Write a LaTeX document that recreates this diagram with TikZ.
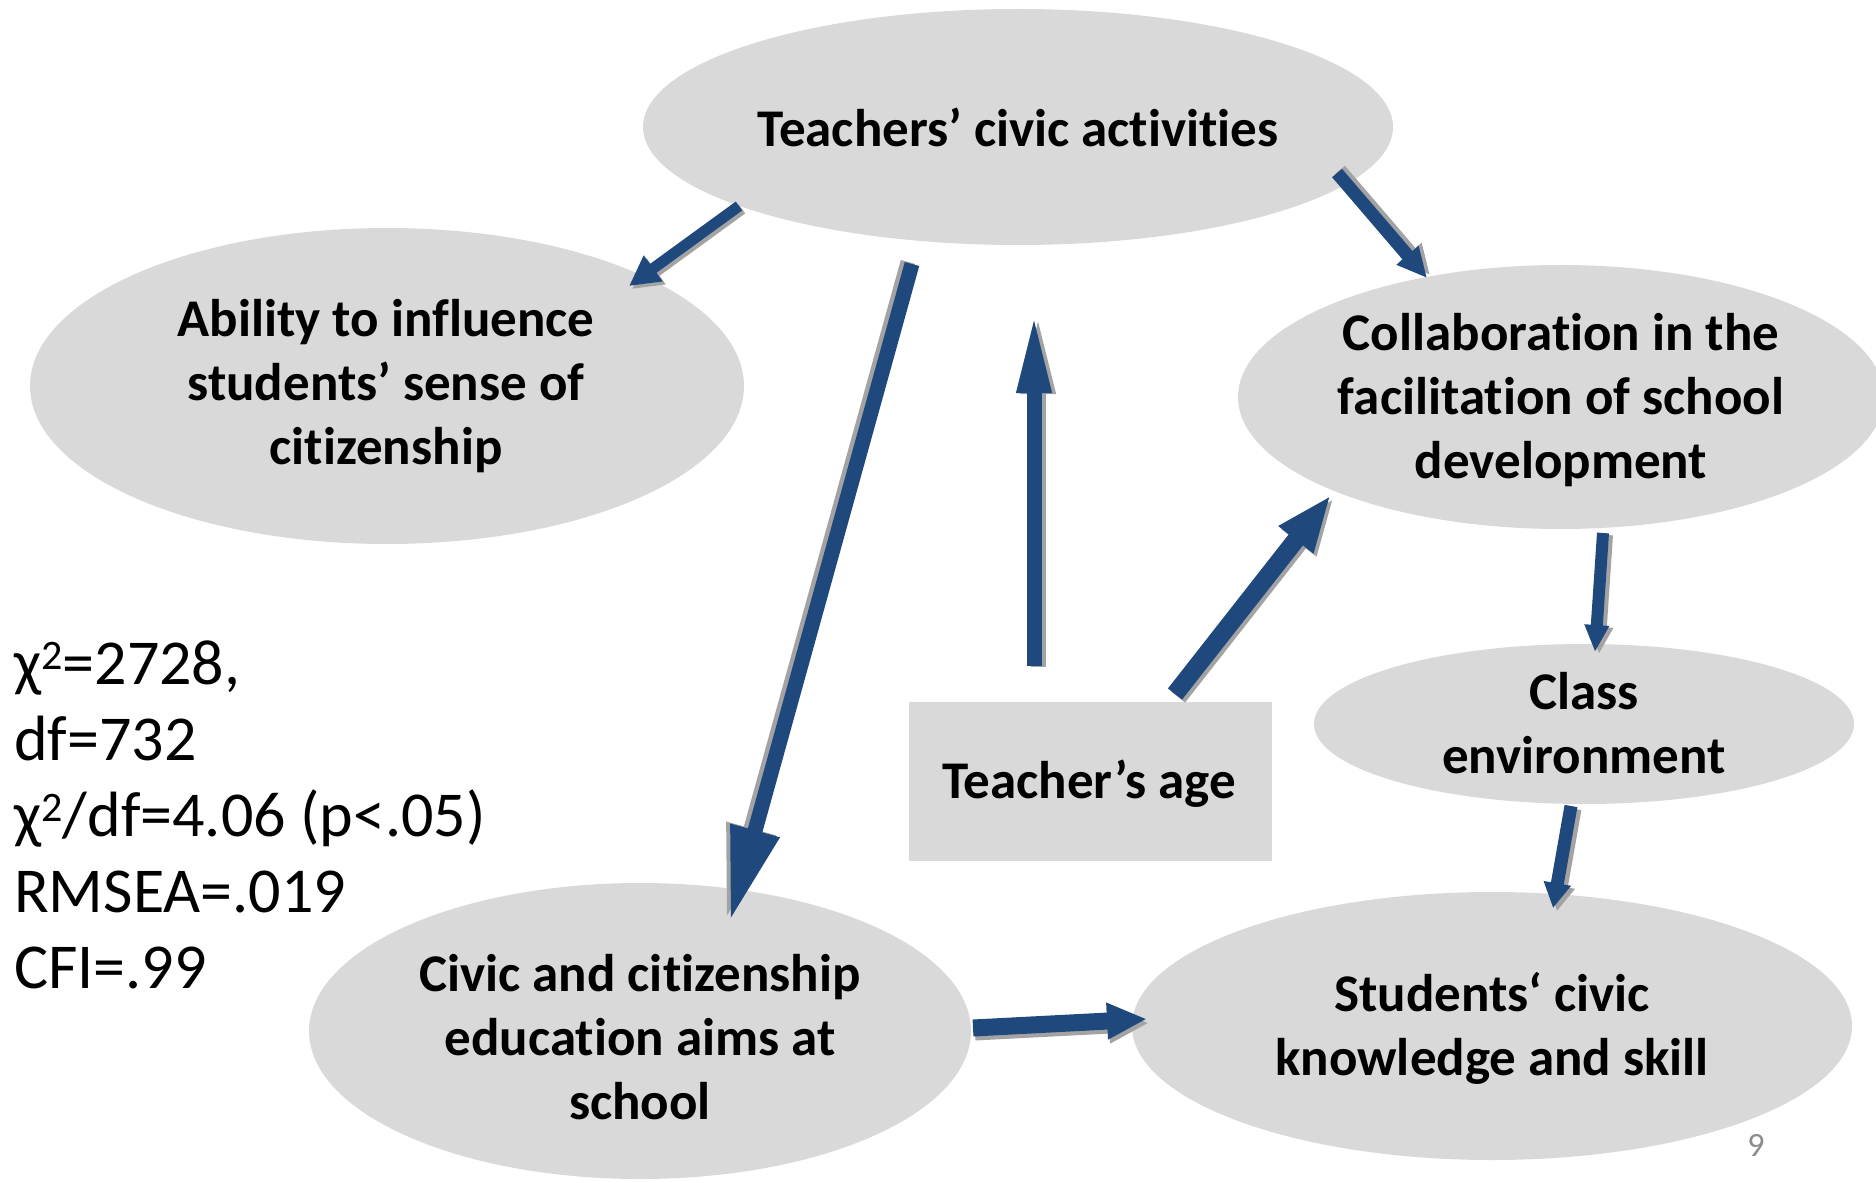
\documentclass[tikz,border=0pt]{standalone}
\usepackage{fontspec}
\setmainfont{Carlito}[Ligatures=NoCommon]
\usetikzlibrary{shapes.geometric,arrows.meta}
\definecolor{arrowblue}{HTML}{1F497D}
\definecolor{bubblegray}{HTML}{D9D9D9}
\definecolor{shadegray}{HTML}{A3A3A3}
\definecolor{pagegray}{HTML}{8C8C8C}

% block arrow with a drop shadow:
% #1 shaft width, #2 head width, #3 head length, #4 shadow shift, #5 from, #6 to
\newcommand\blockarrow[6]{%
  \draw[line width=#1, draw=shadegray, -{Triangle[width=#2,length=#3]},
        transform canvas={shift={#4}}] (#5) -- (#6);
  \draw[line width=#1, draw=arrowblue, -{Triangle[width=#2,length=#3]}] (#5) -- (#6);}

% raised small "2" for chi-square
\newcommand\chisq{χ\raisebox{15pt}{\fontsize{42}{42}\selectfont 2}}

\begin{document}
\begin{tikzpicture}[x=1pt,y=-1pt,
  bubble/.style={ellipse, fill=bubblegray, inner sep=0pt},
  label/.style={font=\fontsize{53}{64}\selectfont\bfseries, align=center, inner sep=0pt},
  stats/.style={font=\fontsize{64}{76}\selectfont, align=left, inner sep=0pt}]
\useasboundingbox (0,0) rectangle (1876,1182);
\clip (0,0) rectangle (1876,1182);

% variables
\node[bubble, minimum width=750, minimum height=236] (tca) at (1018,127) {};
\node[bubble, minimum width=714, minimum height=316] (abi) at (387,386) {};
\node[bubble, minimum width=646, minimum height=264] (col) at (1561,397) {};
\node[bubble, minimum width=540, minimum height=160] (cls) at (1584,724) {};
\node[bubble, minimum width=662, minimum height=296] (cce) at (640,1031) {};
\node[bubble, minimum width=720, minimum height=268] (stu) at (1492,1026) {};
\node[fill=bubblegray, minimum width=363, minimum height=159, inner sep=0pt] (age) at (1090.5,781.5) {};

\node[label] at (tca) {Teachers’ civic activities};
\node[label] at (386,386) {Ability to influence\\students’ sense of\\citizenship};
\node[label] at (1561,400) {Collaboration in the\\facilitation of school\\development};
\node[label] at (1584,723) {Class\\environment};
\node[label] at (640,1037) {Civic and citizenship\\education aims at\\school};
\node[label] at (1492,1028) {Students‘ civic\\knowledge and skill};
\node[label] at (1089,784) {Teacher’s age};

% fit indices
\node[stats, anchor=west] (fit) at (14,815) {\chisq=2728,\\df=732\\\chisq/df=4.06 (p<.05)\\RMSEA=.019\\CFI=.99};

\node[font=\fontsize{34}{40}\selectfont, text=pagegray] (pg) at (1756,1145) {9};

% path endpoints
\coordinate (a1s) at (739,206);  \coordinate (a1e) at (629,286);
\coordinate (a2s) at (912,264);  \coordinate (a2e) at (730,921);
\coordinate (a3s) at (1034,666); \coordinate (a3e) at (1034,311);
\coordinate (a4s) at (1337,173); \coordinate (a4e) at (1427,278);
\coordinate (a5s) at (1175,694); \coordinate (a5e) at (1331,495);
\coordinate (a6s) at (1603,533); \coordinate (a6e) at (1595,652);
\coordinate (a7s) at (1571,806); \coordinate (a7e) at (1553,908);
\coordinate (a8s) at (973,1028); \coordinate (a8e) at (1147,1019);

% paths
\blockarrow{11pt}{30pt}{30pt}{(3pt,-3pt)}{a1s}{a1e}
\blockarrow{15pt}{47pt}{94pt}{(-4pt,2pt)}{a2s}{a2e}
\blockarrow{15pt}{31pt}{82pt}{(4pt,-1pt)}{a3s}{a3e}
\blockarrow{13pt}{27pt}{30pt}{(3pt,3pt)}{a4s}{a4e}
\blockarrow{18pt}{40pt}{57pt}{(3pt,-3pt)}{a5s}{a5e}
\blockarrow{12pt}{23pt}{27pt}{(4pt,-2pt)}{a6s}{a6e}
\blockarrow{13pt}{26pt}{25pt}{(4pt,-3pt)}{a7s}{a7e}
\blockarrow{17pt}{34pt}{40pt}{(2pt,-4pt)}{a8s}{a8e}
\end{tikzpicture}
\end{document}
